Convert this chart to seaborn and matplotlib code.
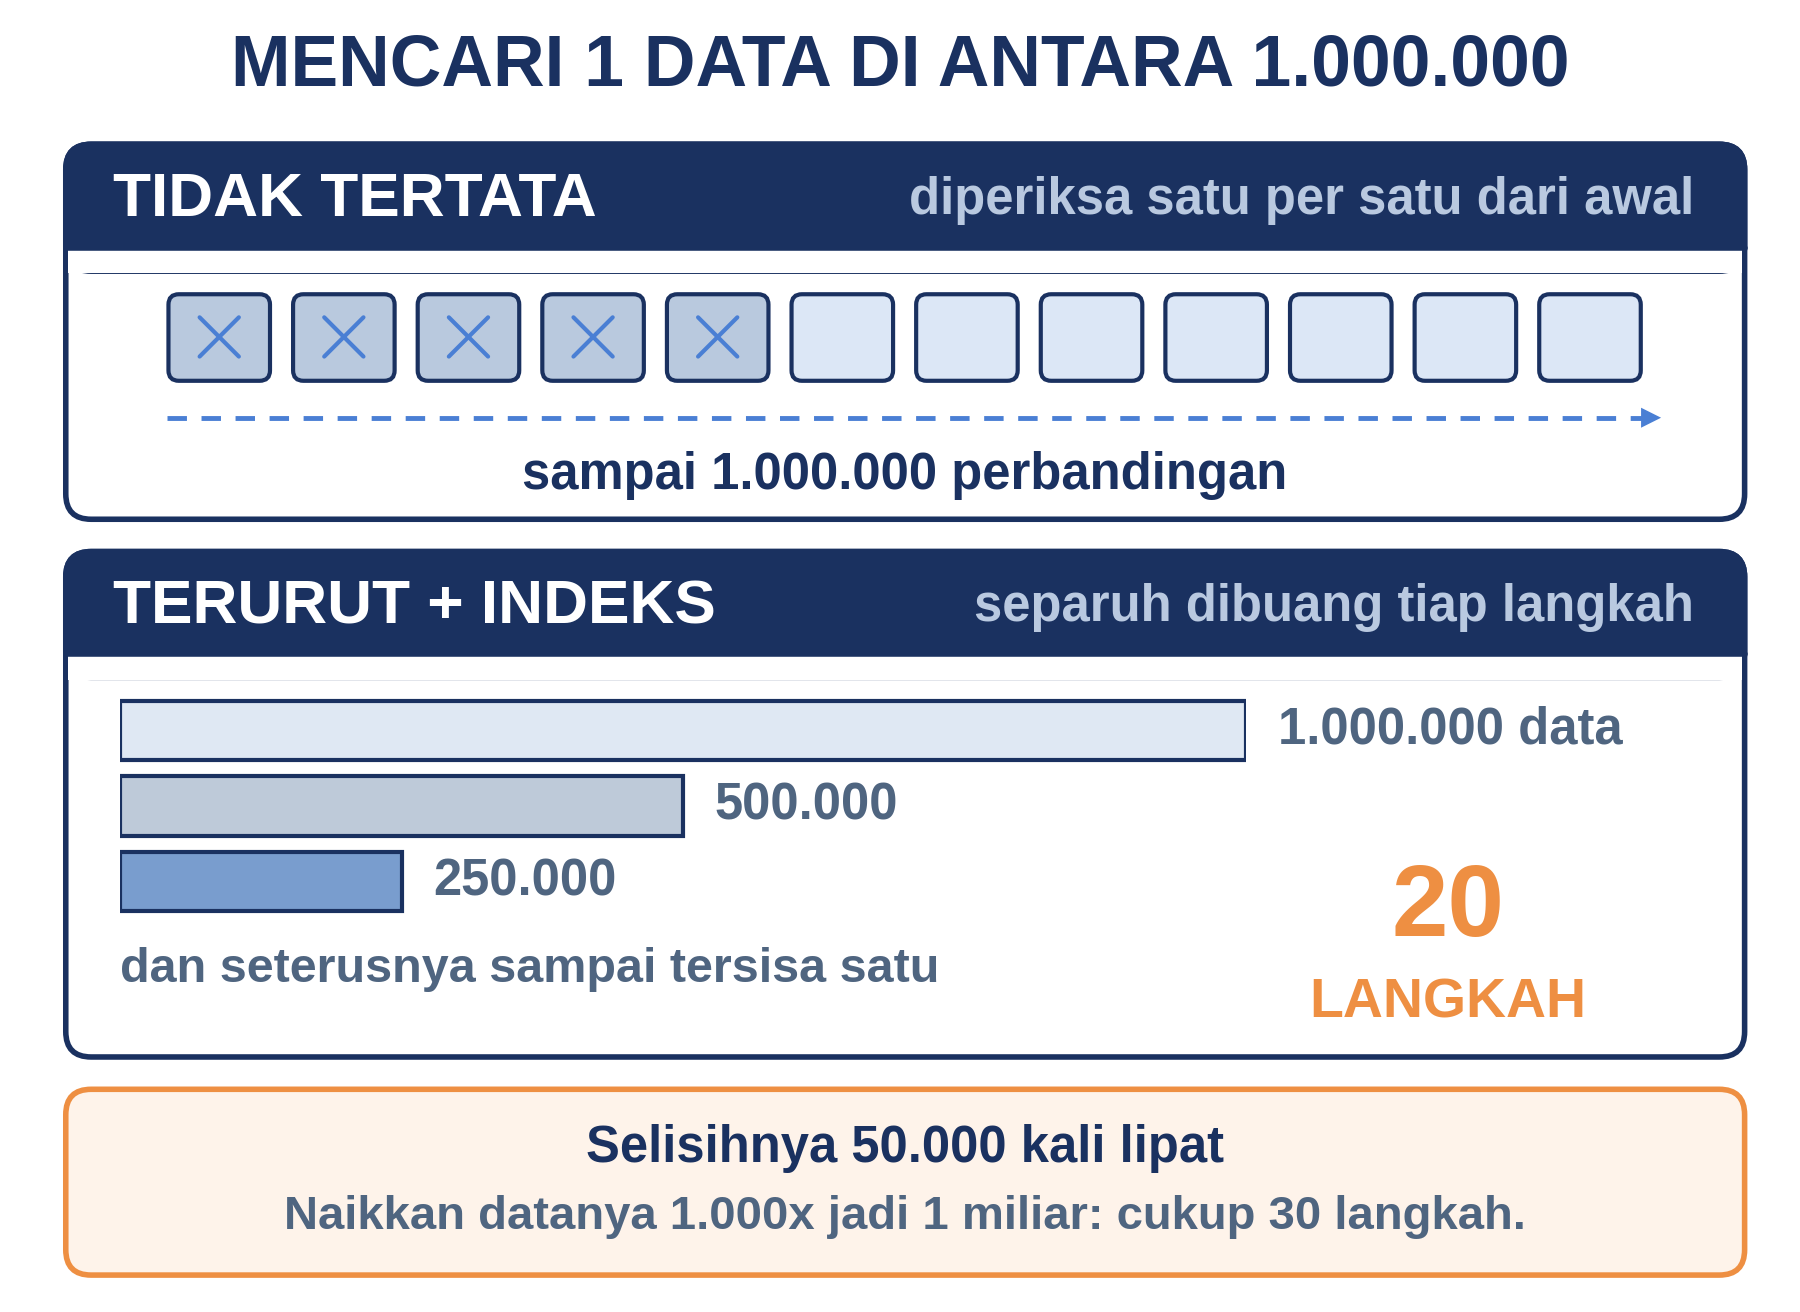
import matplotlib
matplotlib.use("Agg")
import matplotlib.pyplot as plt
import seaborn as sns
import pandas as pd
from matplotlib.patches import FancyBboxPatch, Rectangle

sns.set_theme(style="white")
plt.rcParams['font.family'] = ['Liberation Sans', 'DejaVu Sans']

title = "MENCARI 1 DATA DI ANTARA 1.000.000"
box_checked = [1, 1, 1, 1, 1, 0, 0, 0, 0, 0, 0, 0]
bar_values = [1000000, 500000, 250000]
bar_labels = ["1.000.000 data", "500.000", "250.000"]
bar_colors = ["#dce7f6", "#b9c9de", "#6b9bdc"]
steps = "20"

NAVY = "#1a3160"; GREY = "#4f6580"; BLUE = "#4a7fd4"; ORANGE = "#ee8f42"
W, H = 1560, 1137
S = 1800 / W
def pt(em): return em * S * 0.72

fig = plt.figure(figsize=(18, 13.12), dpi=100)
ax = fig.add_axes([0, 0, 1, 1])
ax.set_xlim(0, W); ax.set_ylim(H, 0); ax.axis("off")

ax.text(W/2, 58, title, ha="center", va="center", fontsize=pt(62), weight="bold", color=NAVY)

def panel(y0, y1, hdr, left, right):
    ax.add_patch(FancyBboxPatch((57, y0), 1455, y1-y0, boxstyle="round,pad=0,rounding_size=22",
                                fc="white", ec=NAVY, lw=4))
    ax.add_patch(FancyBboxPatch((57, y0), 1455, hdr-y0+20, boxstyle="round,pad=0,rounding_size=22",
                                fc=NAVY, ec=NAVY, lw=4))
    ax.add_patch(Rectangle((59, hdr-2), 1451, 24, fc="white", ec="none"))
    ax.plot([57, 1512], [hdr, hdr], color=NAVY, lw=4)
    ax.text(98, (y0+hdr)/2+4, left, va="center", fontsize=pt(54), weight="bold", color="white")
    ax.text(1468, (y0+hdr)/2+4, right, va="center", ha="right", fontsize=pt(44), weight="bold", color="#b9c9e0")

panel(125, 450, 215, "TIDAK TERTATA", "diperiksa satu per satu dari awal")
panel(478, 916, 567, "TERURUT + INDEKS", "separuh dibuang tiap langkah")

for i, c in enumerate(box_checked):
    x = 146 + i*108
    ax.add_patch(FancyBboxPatch((x, 255), 88, 75, boxstyle="round,pad=0,rounding_size=9",
                                fc="#b9c9de" if c else "#dce7f6", ec=NAVY, lw=3))
    if c:
        cx, cy = x+44, 292
        ax.plot([cx-17, cx+17], [cy-17, cy+17], color=BLUE, lw=3)
        ax.plot([cx-17, cx+17], [cy+17, cy-17], color=BLUE, lw=3)
ax.plot([145, 1425], [362, 362], color=BLUE, lw=3.5, ls=(0, (4, 3)))
ax.annotate("", xy=(1442, 362), xytext=(1418, 362),
            arrowprops=dict(arrowstyle="-|>,head_length=1.2,head_width=0.6", color=BLUE, lw=0))
ax.text(784, 412, "sampai 1.000.000 perbandingan", ha="center", va="center",
        fontsize=pt(44), weight="bold", color=NAVY)

# bars via seaborn
bx0, bx1, by0, by1 = 104, 1080, 600, 797
bax = fig.add_axes([bx0/W, 1-by1/H, (bx1-bx0)/W, (by1-by0)/H])
df = pd.DataFrame({"label": bar_labels, "value": bar_values})
sns.barplot(data=df, x="value", y="label", hue="label", palette=bar_colors, orient="h",
            ax=bax, width=0.78, edgecolor=NAVY, linewidth=3, legend=False)
bax.set_xlim(0, 1000000); bax.axis("off")
for p, lab in zip(bax.patches, bar_labels):
    bax.text(p.get_width() + 28000, p.get_y()+p.get_height()/2, lab, va="center",
             fontsize=pt(44), weight="bold", color=GREY, clip_on=False)

ax.text(104, 840, "dan seterusnya sampai tersisa satu", va="center", fontsize=pt(42), weight="bold", color=GREY)
ax.text(1255, 788, steps, ha="center", va="center", fontsize=pt(88), weight="bold", color=ORANGE)
ax.text(1255, 870, "LANGKAH", ha="center", va="center", fontsize=pt(48), weight="bold", color=ORANGE)

ax.add_patch(FancyBboxPatch((57, 944), 1455, 161, boxstyle="round,pad=0,rounding_size=22",
                            fc="#fef3ea", ec=ORANGE, lw=4))
ax.text(784, 995, "Selisihnya 50.000 kali lipat", ha="center", va="center",
        fontsize=pt(44), weight="bold", color=NAVY)
ax.text(784, 1055, "Naikkan datanya 1.000x jadi 1 miliar: cukup 30 langkah.", ha="center", va="center",
        fontsize=pt(41), weight="bold", color=GREY)

fig.savefig("out.png", dpi=100, facecolor="white")
